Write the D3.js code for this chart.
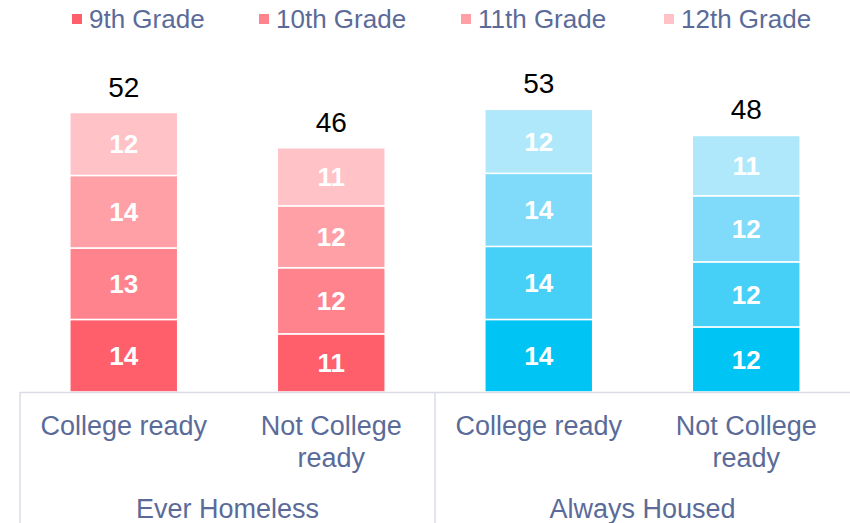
<!DOCTYPE html>
<html>
<head>
<meta charset="utf-8">
<script src="https://cdn.jsdelivr.net/npm/d3@7"></script>
<style>
  body { margin: 0; background: #fff; }
  svg { display: block; font-family: "Liberation Sans", Arial, sans-serif; }
</style>
</head>
<body>
<div id="chart"></div>
<script>
// data
var groups = ["Ever Homeless", "Ever Homeless", "Always Housed", "Always Housed"];
var categories = ["College ready", "Not College ready", "College ready", "Not College ready"];
var grades = ["9th Grade", "10th Grade", "11th Grade", "12th Grade"];
var grade9  = [13.6, 10.9, 13.6, 12.2];
var grade10 = [13.4, 12.4, 13.7, 12.2];
var grade11 = [13.6, 11.6, 13.7, 12.4];
var grade12 = [11.8, 10.9, 12.0, 11.3];

var redShades  = ["#FF5F6B", "#FF838C", "#FFA0A7", "#FFC2C7"];
var blueShades = ["#00C4F4", "#47D0F7", "#7FDBF9", "#AFE8FA"];

var width = 850, height = 523;
var baseY = 392;

var svg = d3.select("#chart").append("svg")
    .attr("width", width)
    .attr("height", height);

var x = d3.scaleBand()
    .domain(d3.range(categories.length))
    .range([20, 850])
    .paddingInner(0.48)
    .paddingOuter(0.24);

var y = d3.scaleLinear().domain([0, 60]).range([baseY, baseY - 320]);

var series = [grade9, grade10, grade11, grade12];
var rows = categories.map(function(c, i) {
  var r = { idx: i };
  grades.forEach(function(g, k) { r[g] = series[k][i]; });
  return r;
});
var stack = d3.stack().keys(grades)(rows);
var fmt = function(v) { return d3.format(".0f")(Math.round(v * 10) / 10); };

// bars
var layer = svg.selectAll(".layer")
    .data(stack)
  .enter().append("g")
    .attr("class", "layer");

layer.selectAll("rect")
    .data(function(d, k) { return d.map(function(p) { p.k = k; return p; }); })
  .enter().append("rect")
    .attr("x", function(d) { return x(d.data.idx); })
    .attr("width", x.bandwidth())
    .attr("y", function(d) { return y(d[1]); })
    .attr("height", function(d) { return y(d[0]) - y(d[1]); })
    .attr("fill", function(d) {
      return groups[d.data.idx] == "Ever Homeless" ? redShades[d.k] : blueShades[d.k];
    })
    .attr("stroke", "#fff")
    .attr("stroke-width", 1.5);

layer.selectAll("text")
    .data(function(d) { return d; })
  .enter().append("text")
    .attr("x", function(d) { return x(d.data.idx) + x.bandwidth() / 2; })
    .attr("y", function(d) { return (y(d[0]) + y(d[1])) / 2; })
    .attr("dy", "0.36em")
    .attr("text-anchor", "middle")
    .attr("fill", "#fff")
    .style("font-weight", "bold")
    .style("font-size", "26px")
    .text(function(d) { return fmt(d[1] - d[0]); });

// totals
svg.selectAll(".total")
    .data(rows)
  .enter().append("text")
    .attr("class", "total")
    .attr("x", function(d) { return x(d.idx) + x.bandwidth() / 2; })
    .attr("y", function(d) { return y(d3.sum(series, function(s) { return s[d.idx]; })) - 16; })
    .attr("text-anchor", "middle")
    .attr("fill", "#000")
    .style("font-size", "28px")
    .text(function(d) { return fmt(d3.sum(series, function(s) { return s[d.idx]; })); });

// category axis box
var lineColor = "#D9DCE6";
var textColor = "#5B6B99";
svg.append("line")
    .attr("x1", 20).attr("x2", 850)
    .attr("y1", baseY + 0.5).attr("y2", baseY + 0.5)
    .attr("stroke", lineColor).attr("stroke-width", 1.5);
[20, x(2) - x.step() * x.paddingInner() / 2].forEach(function(xp) {
  svg.append("line")
      .attr("x1", xp).attr("x2", xp)
      .attr("y1", baseY).attr("y2", height)
      .attr("stroke", lineColor).attr("stroke-width", 1.5);
});

svg.selectAll(".cat")
    .data(categories)
  .enter().append("text")
    .attr("class", "cat")
    .attr("text-anchor", "middle")
    .attr("fill", textColor)
    .style("font-size", "27px")
    .each(function(d, i) {
      var el = d3.select(this);
      var cx = x(i) + x.bandwidth() / 2;
      var lines = d == "College ready" ? [d] : ["Not College", "ready"];
      lines.forEach(function(l, j) {
        el.append("tspan").attr("x", cx).attr("y", 435 + j * 32).text(l);
      });
    });

var groupNames = ["Ever Homeless", "Always Housed"];
svg.selectAll(".grp")
    .data(groupNames)
  .enter().append("text")
    .attr("class", "grp")
    .attr("x", function(d, i) { return x(i * 2) + x.step() - x.step() * x.paddingInner() / 2; })
    .attr("y", 518)
    .attr("text-anchor", "middle")
    .attr("fill", textColor)
    .style("font-size", "27px")
    .text(function(d) { return d; });

// legend
var legendX = [72, 259, 461, 664];
var legend = svg.selectAll(".legend")
    .data(grades)
  .enter().append("g")
    .attr("class", "legend")
    .attr("transform", function(d, i) { return "translate(" + legendX[i] + ",19)"; });
legend.append("rect")
    .attr("x", 0).attr("y", -5)
    .attr("width", 10).attr("height", 10)
    .attr("fill", function(d, i) { return redShades[i]; });
legend.append("text")
    .attr("x", 17)
    .attr("dy", "0.36em")
    .attr("fill", textColor)
    .style("font-size", "26px")
    .text(function(d) { return d; });
</script>
</body>
</html>
